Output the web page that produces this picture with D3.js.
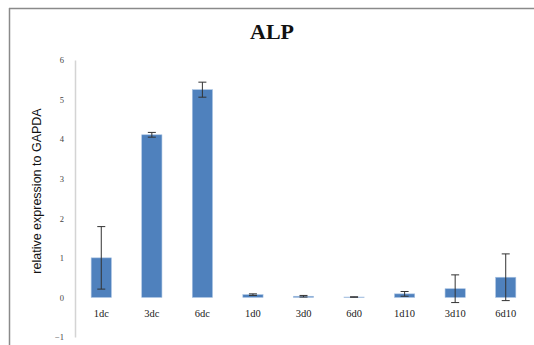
<!DOCTYPE html>
<html>
<head>
<meta charset="utf-8">
<script src="https://cdn.jsdelivr.net/npm/d3@7"></script>
<style>
  html, body { margin: 0; padding: 0; background: #fff; }
  svg { display: block; }
</style>
</head>
<body>
<svg id="chart" width="534" height="345"></svg>
<script>
// ALP expression relative to GAPDH, by sample group
const categories = ["1dc", "3dc", "6dc", "1d0", "3d0", "6d0", "1d10", "3d10", "6d10"];
const means      = [1.00, 4.11, 5.25, 0.07, 0.03, 0.01, 0.09, 0.22, 0.51];
const errors     = [0.79, 0.06, 0.19, 0.02, 0.02, 0.005, 0.06, 0.35, 0.59];
const yTicks     = [-1, 0, 1, 2, 3, 4, 5, 6];

const svg = d3.select("#chart");

// frame lines (top and left)
svg.append("line").attr("x1", 9).attr("x2", 534).attr("y1", 8.5).attr("y2", 8.5)
  .attr("stroke", "#8a8a8a").attr("stroke-width", 1.5);
svg.append("line").attr("x1", 9.5).attr("x2", 9.5).attr("y1", 8).attr("y2", 345)
  .attr("stroke", "#8a8a8a").attr("stroke-width", 1.5);

const x = d3.scaleBand().domain(categories).range([76, 531]).paddingInner(0.6).paddingOuter(0.3);
const y = d3.scaleLinear().domain([-1, 6]).range([337, 60]);

// title
svg.append("text").attr("x", 272).attr("y", 38.5).attr("text-anchor", "middle")
  .attr("font-family", "'Liberation Serif', 'Times New Roman', serif")
  .attr("font-weight", "bold").attr("font-size", 22).attr("fill", "#111")
  .text("ALP");

// y axis
const yAxis = d3.axisLeft(y).tickValues(yTicks).tickSize(0).tickPadding(11).tickFormat(d3.format("d"));
const gy = svg.append("g").attr("transform", "translate(75,0)").call(yAxis);
gy.select(".domain").attr("stroke", "#d4d4d4").attr("stroke-width", 1.5);
gy.selectAll("text").attr("font-family", "'Liberation Serif', serif").attr("font-size", 8.5).attr("fill", "#444");

// y axis title
svg.append("text").attr("transform", "translate(41,191) rotate(-90)")
  .attr("text-anchor", "middle")
  .attr("font-family", "'Liberation Sans', Arial, sans-serif").attr("font-size", 12.5).attr("fill", "#111")
  .text("relative expression to GAPDA");

// bars
svg.append("g").selectAll("rect").data(categories).join("rect")
  .attr("x", (d) => x(d))
  .attr("width", x.bandwidth())
  .attr("y", (d, i) => y(Math.max(0, means[i])))
  .attr("height", (d, i) => Math.abs(y(means[i]) - y(0)))
  .attr("fill", "#4f81bd")
  .attr("stroke", "#a9c3e3").attr("stroke-width", 0.6);

// error bars
const eg = svg.append("g").attr("stroke", "#333").attr("stroke-width", 1);
categories.forEach((c, i) => {
  const cx = x(c) + x.bandwidth() / 2;
  const hi = y(means[i] + errors[i]);
  const lo = y(means[i] - errors[i]);
  eg.append("line").attr("x1", cx).attr("x2", cx).attr("y1", hi).attr("y2", lo);
  eg.append("line").attr("x1", cx - 4).attr("x2", cx + 4).attr("y1", hi).attr("y2", hi);
  eg.append("line").attr("x1", cx - 4).attr("x2", cx + 4).attr("y1", lo).attr("y2", lo);
});

// category labels
svg.append("g").selectAll("text").data(categories).join("text")
  .attr("x", (d) => x(d) + x.bandwidth() / 2)
  .attr("y", 316.5)
  .attr("text-anchor", "middle")
  .attr("font-family", "'Liberation Serif', 'Times New Roman', serif")
  .attr("font-size", 10.5).attr("fill", "#222")
  .text((d) => d);
</script>
</body>
</html>
